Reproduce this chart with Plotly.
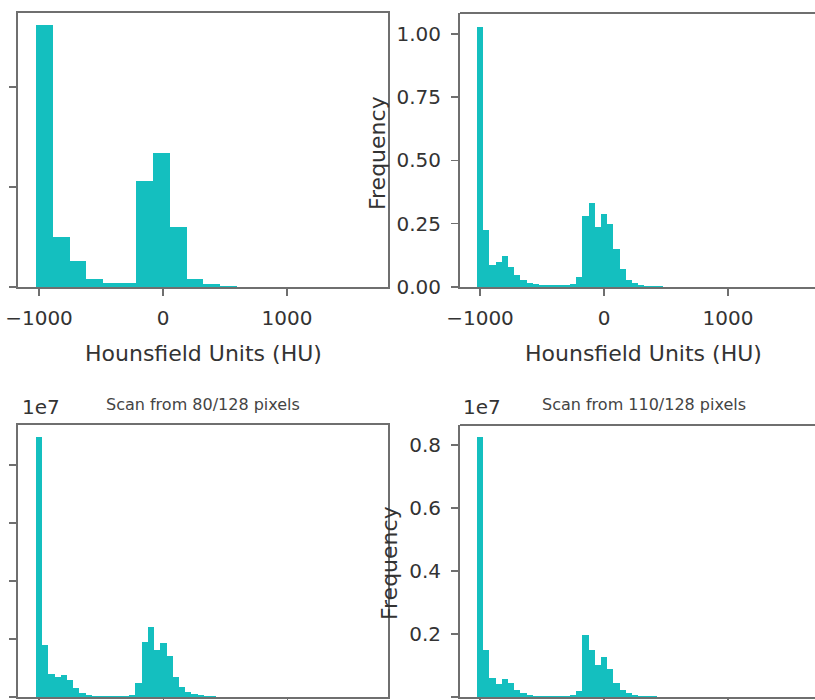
import plotly.graph_objects as go

# ---------------- data ----------------
# Coarse histogram (top-left): 20 bins of 135 HU starting at -1024
TL_START, TL_WIDTH = -1024, 135
TL_COUNTS = [2.62, 0.50, 0.26, 0.084, 0.04, 0.04, 1.06, 1.34, 0.60, 0.084,
             0.03, 0.012, 0.005, 0.003, 0.002, 0.001, 0.001, 0.001, 0.0005, 0.0005]

# Fine histograms: 54 bins of 50 HU starting at -1025
FINE_START, FINE_WIDTH = -1025, 50
TR_COUNTS = [1.025, 0.225, 0.086, 0.099, 0.121, 0.079, 0.047, 0.027, 0.017, 0.012,
             0.009, 0.007, 0.006, 0.006, 0.007, 0.010, 0.04, 0.28, 0.333, 0.236,
             0.29, 0.25, 0.15, 0.07, 0.027, 0.014, 0.008, 0.005, 0.003, 0.002,
             0.0015, 0.001, 0.001, 0.001, 0.0008, 0.0008, 0.0006, 0.0006, 0.0005, 0.0005,
             0.0004, 0.0004, 0.0003, 0.0003, 0.0003, 0.0002, 0.0002, 0.0002, 0.0002, 0.0001,
             0.0001, 0.0001, 0.0001, 0.0001]
BL_COUNTS = [0.897, 0.18, 0.08, 0.068, 0.076, 0.06, 0.03, 0.013, 0.007, 0.005,
             0.004, 0.003, 0.003, 0.003, 0.004, 0.008, 0.05, 0.19, 0.243, 0.162,
             0.185, 0.14, 0.07, 0.036, 0.018, 0.01, 0.006, 0.004, 0.002, 0.0015,
             0.001, 0.001, 0.0008, 0.0008, 0.0006, 0.0006, 0.0005, 0.0005, 0.0004, 0.0004,
             0.0003, 0.0003, 0.0003, 0.0002, 0.0002, 0.0002, 0.0002, 0.0001, 0.0001, 0.0001,
             0.0001, 0.0001, 0.0001, 0.0001]
BR_COUNTS = [0.825, 0.15, 0.06, 0.04, 0.058, 0.045, 0.022, 0.012, 0.007, 0.004,
             0.003, 0.003, 0.002, 0.002, 0.003, 0.006, 0.02, 0.197, 0.15, 0.10,
             0.126, 0.09, 0.043, 0.022, 0.012, 0.007, 0.004, 0.003, 0.002, 0.0015,
             0.001, 0.001, 0.0008, 0.0008, 0.0006, 0.0006, 0.0005, 0.0005, 0.0004, 0.0004,
             0.0003, 0.0003, 0.0003, 0.0002, 0.0002, 0.0002, 0.0002, 0.0001, 0.0001, 0.0001,
             0.0001, 0.0001, 0.0001, 0.0001]

X_TICKS = [-1000, 0, 1000]
X_TICK_TEXT = ["\u22121000", "0", "1000"]
TR_Y_TICKS = [0.0, 0.25, 0.5, 0.75, 1.0]
BR_Y_TICKS = [0.0, 0.2, 0.4, 0.6, 0.8]
TL_Y_TICKS = [0, 1, 2]
BL_Y_TICKS = [0.0, 0.2, 0.4, 0.6, 0.8]

X_LABEL = "Hounsfield Units (HU)"
Y_LABEL = "Frequency"
TITLES = ["Scan from 80/128 pixels", "Scan from 110/128 pixels"]

# ---------------- figure ----------------
W, H = 815, 700
BAR_COLOR = "#14bfbf"
SPINE = "#6f6f6f"
TEXT = "#333333"
FONT = "DejaVu Sans"


def centers(start, width, n):
    return [start + width * (i + 0.5) for i in range(n)]


def px_x(p):
    return p / W


def px_y(p):
    return 1 - p / H


fig = go.Figure()
series = [
    (TL_START, TL_WIDTH, TL_COUNTS, "x", "y"),
    (FINE_START, FINE_WIDTH, TR_COUNTS, "x2", "y2"),
    (FINE_START, FINE_WIDTH, BL_COUNTS, "x3", "y3"),
    (FINE_START, FINE_WIDTH, BR_COUNTS, "x4", "y4"),
]
for start, width, counts, xa, ya in series:
    fig.add_trace(go.Bar(
        x=centers(start, width, len(counts)), y=counts, width=width,
        marker=dict(color=BAR_COLOR, line=dict(width=0)),
        xaxis=xa, yaxis=ya, showlegend=False, hoverinfo="skip"))


# pixel scale: 124 px per 1000 HU ; -1000 at 39 (left) / 480 (right)
def xrange_for(left_px, right_px, m1000_px):
    s = 0.124
    return [-1000 - (m1000_px - left_px) / s, -1000 + (right_px - m1000_px) / s]


def xaxis(dom, rng, anchor, show_labels, mirror):
    return dict(domain=dom, range=rng, anchor=anchor, tickvals=X_TICKS, ticktext=X_TICK_TEXT,
                showticklabels=show_labels,
                showline=True, linecolor=SPINE, linewidth=2, mirror=mirror,
                ticks="outside", ticklen=7, tickwidth=1.5, tickcolor=SPINE,
                ticklabelstandoff=5, automargin=False,
                showgrid=False, zeroline=False, fixedrange=True,
                tickfont=dict(size=20, color=TEXT, family=FONT))


def yaxis(dom, rng, anchor, vals, fmt, show_labels, mirror):
    return dict(domain=dom, range=rng, anchor=anchor, tickvals=vals, tickformat=fmt,
                showticklabels=show_labels,
                showline=True, linecolor=SPINE, linewidth=2, mirror=mirror,
                ticks="outside", ticklen=7, tickwidth=1.5, tickcolor=SPINE,
                ticklabelstandoff=6, automargin=False,
                showgrid=False, zeroline=False, fixedrange=True,
                tickfont=dict(size=20, color=TEXT, family=FONT))


top_dom = [px_y(287), px_y(13)]
bot_dom = [px_y(697), px_y(425)]
left_dom = [px_x(18), px_x(388)]
right_dom = [px_x(460), 1.0]

fig.update_layout(
    width=W, height=H, margin=dict(l=0, r=0, t=0, b=0, autoexpand=False),
    paper_bgcolor="white", plot_bgcolor="white", bargap=0,
    font=dict(family=FONT, color=TEXT),
    xaxis=xaxis(left_dom, xrange_for(18, 388, 39), "y", True, True),
    yaxis=yaxis(top_dom, [0, 2.74], "x", TL_Y_TICKS, None, False, True),
    xaxis2=xaxis(right_dom, xrange_for(460, 815, 480), "y2", True, False),
    yaxis2=yaxis(top_dom, [0, 1.082], "x2", TR_Y_TICKS, ".2f", True, False),
    xaxis3=xaxis(left_dom, xrange_for(18, 387, 39), "y3", False, True),
    yaxis3=yaxis(bot_dom, [0, 0.938], "x3", BL_Y_TICKS, ".1f", False, True),
    xaxis4=xaxis(right_dom, xrange_for(460, 815, 480), "y4", False, False),
    yaxis4=yaxis(bot_dom, [0, 0.863], "x4", BR_Y_TICKS, ".1f", True, False),
)

# top spines of the right-hand panels (their right spines lie outside the crop)
shapes = []
for dom in (top_dom, bot_dom):
    shapes.append(dict(type="line", xref="paper", yref="paper",
                       x0=right_dom[0], x1=1.02, y0=dom[1], y1=dom[1],
                       line=dict(color=SPINE, width=2)))
fig.update_layout(shapes=shapes)

ann = []
# x-axis titles (top row)
for cx in (203, 643):
    ann.append(dict(text=X_LABEL, x=px_x(cx), y=px_y(353), xref="paper", yref="paper",
                    xanchor="center", yanchor="middle", showarrow=False,
                    font=dict(size=22, color=TEXT, family=FONT)))
# y-axis titles
for cx, cy in ((377, 153), (389, 563)):
    ann.append(dict(text=Y_LABEL, x=px_x(cx), y=px_y(cy), xref="paper", yref="paper",
                    xanchor="center", yanchor="middle", textangle=-90, showarrow=False,
                    font=dict(size=22, color=TEXT, family=FONT)))
# offset labels
for cx in (41, 482):
    ann.append(dict(text="1e7", x=px_x(cx), y=px_y(407), xref="paper", yref="paper",
                    xanchor="center", yanchor="middle", showarrow=False,
                    font=dict(size=20, color=TEXT, family=FONT)))
# subplot titles
for cx, t in zip((203, 644), TITLES):
    ann.append(dict(text=t, x=px_x(cx), y=px_y(404), xref="paper", yref="paper",
                    xanchor="center", yanchor="middle", showarrow=False,
                    font=dict(size=16, color="#444444", family=FONT)))
fig.update_layout(annotations=ann)

fig.write_html("out.html", config={"displayModeBar": False, "staticPlot": True},
               post_script="document.body.style.margin='0';document.body.style.overflow='hidden';")
